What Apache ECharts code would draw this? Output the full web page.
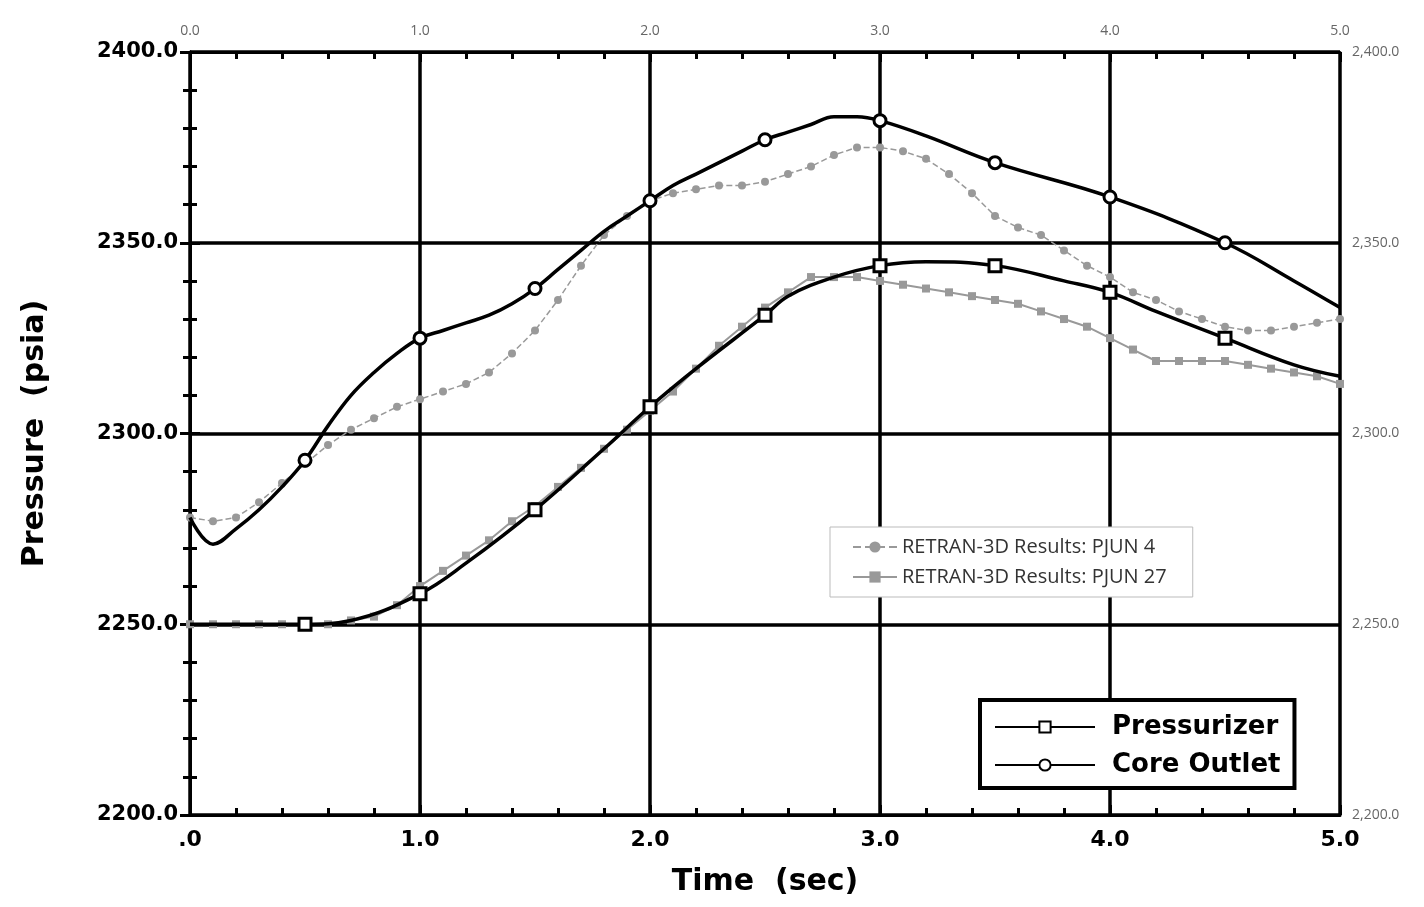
<!DOCTYPE html>
<html lang="en">
<head>
<meta charset="UTF-8">
<title>Pressure vs Time</title>
<script src="https://cdn.jsdelivr.net/npm/echarts@6/dist/echarts.min.js"></script>
<style>html,body{margin:0;padding:0;background:#fff}#main{width:1424px;height:907px}</style>
</head>
<body>
<div id="main"></div>
<script>
// PJUN 4 / PJUN 27 sampled every 0.1 s
var simTime = [];
for (var i = 0; i <= 50; i++) simTime.push(+(i / 10).toFixed(1));
var pjun4 = [2278,2277,2278,2282,2287,2292,2297,2301,2304,2307,2309,2311,2313,2316,2321,2327,2335,2344,2352,2357,
             2361,2363,2364,2365,2365,2366,2368,2370,2373,2375,2375,2374,2372,2368,2363,2357,2354,2352,2348,2344,
             2341,2337,2335,2332,2330,2328,2327,2327,2328,2329,2330];
var pjun27 = [2250,2250,2250,2250,2250,2250,2250,2251,2252,2255,2260,2264,2268,2272,2277,2281,2286,2291,2296,2301,
              2306,2311,2317,2323,2328,2333,2337,2341,2341,2341,2340,2339,2338,2337,2336,2335,2334,2332,2330,2328,
              2325,2322,2319,2319,2319,2319,2318,2317,2316,2315,2313];
// scanned reference curves
var coreTime = [0,0.1,0.2,0.3,0.4,0.5,0.6,0.7,0.8,0.9,1.0,1.1,1.2,1.3,1.4,1.5,1.6,1.7,1.8,1.9,2.0,2.1,2.2,2.3,2.4,2.5,2.6,2.7,2.8,2.9,3.0,3.2,3.5,4.0,4.5,4.8,5.0];
var coreOutlet = [2278,2271,2275,2280,2286,2293,2302,2310,2316,2321,2325,2327,2329,2331,2334,2338,2343,2348,2353,2357,2361,2365,2368,2371,2374,2377,2379,2381,2383,2383,2382,2378,2371,2362,2350,2340,2333];
var przTime = [0,0.5,0.7,1.0,1.2,1.5,1.8,2.0,2.2,2.5,2.6,2.8,3.0,3.2,3.5,3.8,4.0,4.2,4.5,4.8,5.0];
var pressurizer = [2250,2250,2251,2258,2266,2280,2296,2307,2317,2331,2336,2341,2344,2345,2344,2340,2337,2332,2325,2318,2315];
var markTime = [0.5,1.0,1.5,2.0,2.5,3.0,3.5,4.0,4.5];
var yLabels = ['2200.0','2250.0','2300.0','2350.0','2400.0'];

function pairs(t, v) { return t.map(function (x, k) { return [x, v[k]]; }); }
// marker only at the 0.5 s stations
function marked(t, v) {
  return t.map(function (x, k) {
    return markTime.indexOf(x) >= 0 ? {value: [x, v[k]]} : {value: [x, v[k]], symbol: 'none'};
  });
}

var chart = echarts.init(document.getElementById('main'));
var bold = {fontFamily: 'DejaVu Sans', fontWeight: 'bold', color: '#000'};
var blk = {color: '#000', width: 3};
chart.setOption({
  animation: false,
  grid: {left: 190, right: 84, top: 52, bottom: 92},
  xAxis: [
    {type: 'value', min: 0, max: 5, interval: 1, position: 'bottom',
     axisLine: {lineStyle: blk},
     axisTick: {inside: true, length: 10, lineStyle: blk},
     minorTick: {show: true, splitNumber: 5, length: 7, lineStyle: blk},
     splitLine: {show: true, lineStyle: {color: '#000', width: 3.5}},
     axisLabel: Object.assign({fontSize: 22, margin: 14, formatter: function (v) { return v === 0 ? '.0' : v.toFixed(1); }}, bold),
     name: 'Time  (sec)', nameLocation: 'middle', nameGap: 52,
     nameTextStyle: Object.assign({fontSize: 30}, bold)},
    {type: 'value', min: 0, max: 5, interval: 1, position: 'top',
     axisLine: {lineStyle: blk},
     axisTick: {inside: true, length: 10, lineStyle: blk},
     minorTick: {show: true, splitNumber: 5, length: 7, lineStyle: blk},
     splitLine: {show: false},
     axisLabel: {fontSize: 14, color: '#666', fontFamily: 'Open Sans', margin: 14, formatter: function (v) { return v.toFixed(1); }}}
  ],
  yAxis: [
    {type: 'value', min: 2200, max: 2400, interval: 50, position: 'left',
     axisLine: {lineStyle: blk},
     axisTick: {inside: true, length: 10, lineStyle: blk},
     minorTick: {show: true, splitNumber: 5, length: 7, lineStyle: blk},
     splitLine: {show: true, lineStyle: {color: '#000', width: 3.5}},
     axisLabel: Object.assign({fontSize: 21, margin: 12, formatter: function (v) { return yLabels[(v - 2200) / 50]; }}, bold),
     name: 'Pressure  (psia)', nameLocation: 'middle', nameGap: 140,
     nameTextStyle: Object.assign({fontSize: 30}, bold)},
    {type: 'value', min: 2200, max: 2400, interval: 50, position: 'right',
     axisLine: {lineStyle: blk},
     axisTick: {inside: true, length: 10, lineStyle: blk},
     minorTick: {show: true, splitNumber: 5, length: 7, lineStyle: blk},
     splitLine: {show: false},
     axisLabel: {fontSize: 14, color: '#666', fontFamily: 'Open Sans', margin: 12,
       formatter: function (v) { return v.toLocaleString('en-US', {minimumFractionDigits: 1}); }}}
  ],
  legend: [
    {data: ['RETRAN-3D Results: PJUN 4', 'RETRAN-3D Results: PJUN 27'], orient: 'vertical',
     left: 830, top: 527, itemGap: 10, itemWidth: 44, padding: [10, 26, 10, 22],
     borderColor: '#bbb', borderWidth: 1, backgroundColor: '#fff',
     textStyle: {fontSize: 20, fontFamily: 'Open Sans', color: '#333'}},
    {data: ['Pressurizer', 'Core Outlet'], orient: 'vertical',
     left: 980, top: 700, itemGap: 12, itemWidth: 100, itemHeight: 14, padding: [14, 14, 10, 14],
     borderColor: '#000', borderWidth: 4, backgroundColor: '#fff',
     textStyle: Object.assign({fontSize: 26, padding: [0, 0, 0, 12]}, bold)}
  ],
  series: [
    {name: 'RETRAN-3D Results: PJUN 4', type: 'line', data: pairs(simTime, pjun4),
     symbol: 'circle', symbolSize: 8, itemStyle: {color: '#999'},
     lineStyle: {color: '#999', width: 1.5, type: 'dashed'}, z: 3},
    {name: 'RETRAN-3D Results: PJUN 27', type: 'line', data: pairs(simTime, pjun27),
     symbol: 'rect', symbolSize: 8, itemStyle: {color: '#999'},
     lineStyle: {color: '#999', width: 2}, z: 3},
    {name: 'Pressurizer', type: 'line', data: marked(przTime, pressurizer), smooth: 0.4,
     symbol: 'rect', symbolSize: 12, showAllSymbol: true,
     lineStyle: {color: '#000', width: 3.5},
     itemStyle: {color: '#fff', borderColor: '#000', borderWidth: 3, opacity: 1}, z: 4},
    {name: 'Core Outlet', type: 'line', data: marked(coreTime, coreOutlet), smooth: 0.4,
     symbol: 'circle', symbolSize: 12, showAllSymbol: true,
     lineStyle: {color: '#000', width: 3.5},
     itemStyle: {color: '#fff', borderColor: '#000', borderWidth: 3, opacity: 1}, z: 4}
  ]
});
</script>
</body>
</html>
